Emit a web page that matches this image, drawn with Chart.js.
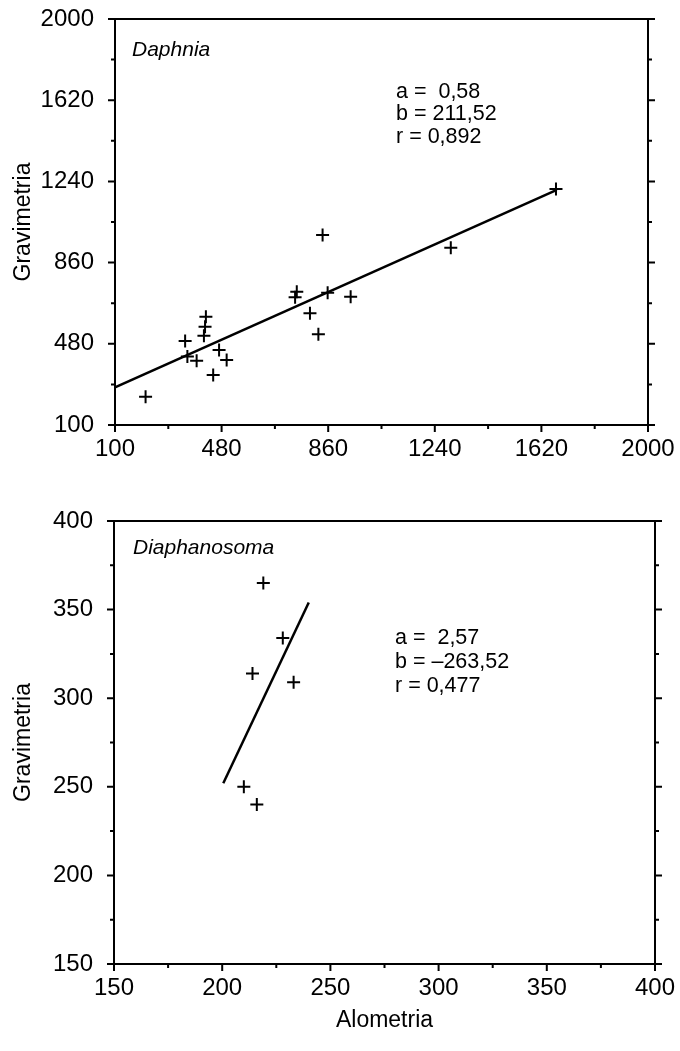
<!DOCTYPE html>
<html>
<head>
<meta charset="utf-8">
<title>Gravimetria vs Alometria</title>
<script src="https://cdn.jsdelivr.net/npm/chart.js@4.4.1/dist/chart.umd.min.js"></script>
<style>
  html, body { margin: 0; padding: 0; background: #fff; }
  #wrap { position: relative; width: 680px; height: 1051px; }
  .panel { position: absolute; left: 0; width: 680px; }
  #daphnia-box { top: 0; height: 475px; }
  #diaph-box { top: 475px; height: 576px; }
</style>
</head>
<body>
<div id="wrap">
  <div class="panel" id="daphnia-box"><canvas id="daphnia-chart"></canvas></div>
  <div class="panel" id="diaph-box"><canvas id="diaph-chart"></canvas></div>
</div>
<script>
  'use strict';

  // Daphnia: alometria (x) vs gravimetria (y)
  const daphniaAlo  = [209, 350, 358, 391, 424, 421, 417, 450, 471, 498, 748, 742, 795, 825, 840, 858, 940, 1297, 1672];
  const daphniaGrav = [232, 493, 420, 401, 607, 560, 518, 334, 451, 404, 724, 698, 623, 525, 989, 719, 700, 930, 1204];
  const daphniaFitX = [100, 1675];
  const daphniaFitY = [276, 1200];
  const daphniaTicks = [100, 480, 860, 1240, 1620, 2000];
  const daphniaStats = ['a =  0,58', 'b = 211,52', 'r = 0,892'];

  // Diaphanosoma
  const diaphAlo  = [219, 228, 214, 233, 210, 216];
  const diaphGrav = [365, 334, 314, 309, 250, 240];
  const diaphFitX = [200.5, 240];
  const diaphFitY = [252, 354];
  const diaphTicks = [150, 200, 250, 300, 350, 400];
  const diaphStats = ['a =  2,57', 'b = \u2013263,52', 'r = 0,477'];

  const FONT = '"Liberation Sans", Arial, sans-serif';

  /**
   * Box around the plot plus outward major/minor tick marks.
   */
  const framePlugin = {
    id: 'frame',
    afterDraw(chart) {
      const {ctx, chartArea: a, scales} = chart;
      const x = scales.x, y = scales.y;
      const major = 7, minor = 4;
      ctx.save();
      ctx.strokeStyle = '#000';
      ctx.lineWidth = 2;
      ctx.strokeRect(a.left, a.top, a.right - a.left, a.bottom - a.top);
      ctx.beginPath();
      const xv = x.ticks.map(t => t.value);
      xv.forEach((v, i) => {
        const px = x.getPixelForValue(v);
        ctx.moveTo(px, a.bottom); ctx.lineTo(px, a.bottom + major);
        if (i < xv.length - 1) {
          const mx = x.getPixelForValue((v + xv[i + 1]) / 2);
          ctx.moveTo(mx, a.bottom); ctx.lineTo(mx, a.bottom + minor);
        }
      });
      const yv = y.ticks.map(t => t.value);
      yv.forEach((v, i) => {
        const py = y.getPixelForValue(v);
        ctx.moveTo(a.left, py); ctx.lineTo(a.left - major, py);
        ctx.moveTo(a.right, py); ctx.lineTo(a.right + major, py);
        if (i < yv.length - 1) {
          const my = y.getPixelForValue((v + yv[i + 1]) / 2);
          ctx.moveTo(a.left, my); ctx.lineTo(a.left - minor, my);
          ctx.moveTo(a.right, my); ctx.lineTo(a.right + minor, my);
        }
      });
      ctx.stroke();
      ctx.restore();
    }
  };

  /**
   * Species name and regression coefficients inside the plot.
   */
  const notesPlugin = {
    id: 'notes',
    afterDraw(chart, args, opts) {
      const {ctx, chartArea: a} = chart;
      ctx.save();
      ctx.fillStyle = '#000';
      ctx.textBaseline = 'middle';
      ctx.textAlign = 'left';
      ctx.font = 'italic 21px ' + FONT;
      ctx.fillText(opts.species, a.left + opts.speciesLeft, a.top + opts.speciesTop);
      ctx.font = '21.5px ' + FONT;
      opts.stats.forEach((s, i) => {
        ctx.fillText(s, a.left + opts.statsLeft, a.top + opts.statsTop + i * opts.lineGap);
      });
      ctx.restore();
    }
  };

  function makePanel(canvasId, p) {
    const ctx = document.getElementById(canvasId).getContext('2d');
    const axisFont = {family: FONT, size: 24};
    const titleFont = {family: FONT, size: 23};
    return new Chart(ctx, {
      type: 'scatter',
      data: {
        datasets: [{
          data: p.xs.map((v, i) => ({x: v, y: p.ys[i]})),
          pointStyle: 'cross',
          pointRadius: 6.5,
          pointBorderWidth: 2,
          pointBorderColor: '#000',
          pointBackgroundColor: '#000'
        }, {
          type: 'line',
          data: p.fitX.map((v, i) => ({x: v, y: p.fitY[i]})),
          borderColor: '#000',
          borderWidth: 2.5,
          pointRadius: 0,
          fill: false,
          tension: 0
        }]
      },
      options: {
        responsive: true,
        maintainAspectRatio: false,
        animation: false,
        layout: {
          padding: {top: p.padTop, right: p.padRight, left: 0, bottom: 0}
        },
        plugins: {
          legend: {display: false},
          tooltip: {enabled: false},
          notes: p.notes
        },
        scales: {
          x: {
            type: 'linear',
            min: p.ticks[0],
            max: p.ticks[p.ticks.length - 1],
            afterBuildTicks: s => { s.ticks = p.ticks.map(v => ({value: v})); },
            afterFit: s => {
              s.height = p.xHeight;
              s.paddingLeft = 0;
              s.paddingRight = 0;
            },
            grid: {display: false, drawTicks: false},
            border: {display: false},
            ticks: {
              color: '#000', font: axisFont, padding: 10,
              maxRotation: 0, autoSkip: false,
              callback: v => String(v)
            },
            title: p.xTitle ? {
              display: true, text: p.xTitle, color: '#000', font: titleFont,
              padding: {top: 0, bottom: 17}
            } : {display: false}
          },
          y: {
            type: 'linear',
            min: p.ticks[0],
            max: p.ticks[p.ticks.length - 1],
            afterBuildTicks: s => { s.ticks = p.ticks.map(v => ({value: v})); },
            afterFit: s => {
              s.width = p.yWidth;
              s.paddingTop = 0;
              s.paddingBottom = 0;
            },
            grid: {display: false, drawTicks: false},
            border: {display: false},
            ticks: {
              color: '#000', font: axisFont, padding: 21,
              autoSkip: false,
              callback: v => String(v)
            },
            title: {
              display: true, text: 'Gravimetria', color: '#000', font: titleFont,
              padding: {top: 10, bottom: 0}
            }
          }
        }
      },
      plugins: [framePlugin, notesPlugin]
    });
  }

  makePanel('daphnia-chart', {
    xs: daphniaAlo, ys: daphniaGrav,
    fitX: daphniaFitX, fitY: daphniaFitY,
    ticks: daphniaTicks,
    padTop: 19, padRight: 32, xHeight: 50, yWidth: 115,
    xTitle: null,
    notes: {
      species: 'Daphnia', speciesLeft: 17, speciesTop: 31,
      stats: daphniaStats, statsLeft: 281, statsTop: 73, lineGap: 22.5
    }
  });

  makePanel('diaph-chart', {
    xs: diaphAlo, ys: diaphGrav,
    fitX: diaphFitX, fitY: diaphFitY,
    ticks: diaphTicks,
    padTop: 46, padRight: 25, xHeight: 87, yWidth: 114,
    xTitle: 'Alometria',
    notes: {
      species: 'Diaphanosoma', speciesLeft: 19, speciesTop: 27,
      stats: diaphStats, statsLeft: 281, statsTop: 117, lineGap: 24
    }
  });
</script>
</body>
</html>
